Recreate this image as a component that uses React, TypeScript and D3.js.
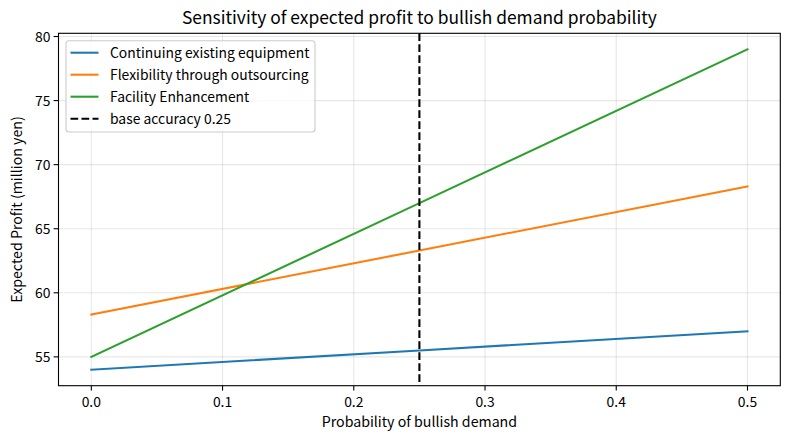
import React from "react";
import * as d3 from "d3";

const probs = [0, 0.25, 0.5];
const continuing = [54.0, 55.5, 57.0];
const flexibility = [58.3, 63.3, 68.3];
const enhancement = [55.0, 67.0, 79.0];
const seriesNames = ["Continuing existing equipment", "Flexibility through outsourcing", "Facility Enhancement"];
const seriesColors = ["#1f77b4", "#ff7f0e", "#2ca02c"];
const baseP = 0.25;
const baseLabel = "base accuracy 0.25";
const xTicks = [0, 0.1, 0.2, 0.3, 0.4, 0.5];
const yTicks = [55, 60, 65, 70, 75, 80];

const W = 790, H = 440;
const L = 58.5, R = 780.3, T = 33.3, B = 385.7;
const FONT = "'Noto Sans CJK JP', 'Noto Sans', sans-serif";

export default function App() {
  const allSeries = [continuing, flexibility, enhancement];
  const x = d3.scaleLinear().domain([-0.025, 0.525]).range([L, R]);
  const y = d3.scaleLinear().domain([52.75, 80.25]).range([B, T]);
  const line = d3.line<number>().x((_, i) => x(probs[i])).y((d) => y(d));
  const lw = 2.08;
  return (
    <div style={{ position: "absolute", left: 0, top: 0 }}>
      <svg width={W} height={H} style={{ display: "block", fontFamily: FONT }}>
        <rect width={W} height={H} fill="#fff" />
        <g>
          {xTicks.map((t) => (
            <line key={"gx" + t} x1={x(t)} x2={x(t)} y1={T} y2={B} stroke="#b0b0b0" strokeOpacity={0.3} strokeWidth={1.1} />
          ))}
          {yTicks.map((t) => (
            <line key={"gy" + t} x1={L} x2={R} y1={y(t)} y2={y(t)} stroke="#b0b0b0" strokeOpacity={0.3} strokeWidth={1.1} />
          ))}
        </g>
        {allSeries.map((s, i) => (
          <path key={i} d={line(s) || ""} fill="none" stroke={seriesColors[i]} strokeWidth={lw} strokeLinecap="square" />
        ))}
        <line x1={x(baseP)} x2={x(baseP)} y1={T} y2={B} stroke="#000" strokeWidth={lw} strokeDasharray="7.7,3.3" />
        <rect x={L} y={T} width={R - L} height={B - T} fill="none" stroke="#000" strokeWidth={1.1} />
        {xTicks.map((t) => (
          <g key={"xt" + t}>
            <line x1={x(t)} x2={x(t)} y1={B} y2={B + 4.9} stroke="#000" strokeWidth={1.1} />
            <text x={x(t)} y={B + 21.5} textAnchor="middle" fontSize={13.9} fill="#000">
              {t.toFixed(1)}
            </text>
          </g>
        ))}
        {yTicks.map((t) => (
          <g key={"yt" + t}>
            <line x1={L - 4.9} x2={L} y1={y(t)} y2={y(t)} stroke="#000" strokeWidth={1.1} />
            <text x={L - 8} y={y(t)} dy="0.36em" textAnchor="end" fontSize={13.9} fill="#000">
              {t}
            </text>
          </g>
        ))}
        <text x={(L + R) / 2} y={24} textAnchor="middle" fontSize={17.4} fill="#000">
          Sensitivity of expected profit to bullish demand probability
        </text>
        <text x={(L + R) / 2} y={427} textAnchor="middle" fontSize={14.2} fill="#000">
          Probability of bullish demand
        </text>
        <text transform={`translate(22,${(T + B) / 2}) rotate(-90)`} textAnchor="middle" fontSize={14.2} fill="#000">
          Expected Profit (million yen)
        </text>
        <g>
          <rect x={66} y={40.7} width={249} height={91.3} rx={3} fill="#fff" fillOpacity={0.8} stroke="#cccccc" strokeWidth={1.1} />
          {[...seriesNames, baseLabel].map((name, i) => {
            const yy = 52.7 + i * 22;
            return (
              <g key={name}>
                <line x1={70.5} x2={98.5} y1={yy} y2={yy} stroke={i < 3 ? seriesColors[i] : "#000"} strokeWidth={lw} strokeDasharray={i < 3 ? undefined : "7.7,3.3"} />
                <text x={110} y={yy} dy="0.36em" fontSize={13.9} fill="#000">
                  {name}
                </text>
              </g>
            );
          })}
        </g>
      </svg>
    </div>
  );
}
